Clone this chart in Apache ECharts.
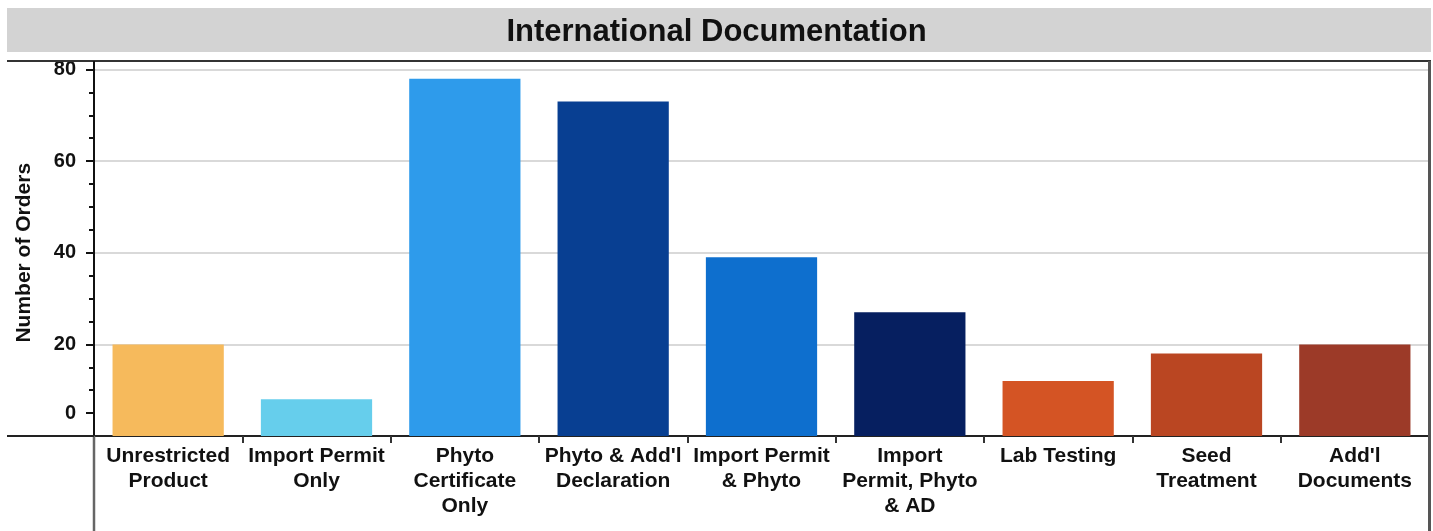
<!DOCTYPE html>
<html>
<head>
<meta charset="utf-8">
<title>International Documentation</title>
<script src="https://cdn.jsdelivr.net/npm/echarts@6/dist/echarts.min.js"></script>
<style>
  html, body { margin: 0; padding: 0; background: #fff; }
  #chart { width: 1433px; height: 531px; }
</style>
</head>
<body>
<div id="chart"></div>
<script>
// Documentation type per order
const categories = [
  'Unrestricted\nProduct',
  'Import Permit\nOnly',
  'Phyto\nCertificate\nOnly',
  "Phyto & Add'l\nDeclaration",
  'Import Permit\n& Phyto',
  'Import\nPermit, Phyto\n& AD',
  'Lab Testing',
  'Seed\nTreatment',
  "Add'l\nDocuments"
];
const orders = [20, 8, 78, 73, 39, 27, 12, 18, 20];
const barColors = [
  '#F6BA5C', '#66CEEC', '#2E9BEB', '#083F92', '#0E6FCE',
  '#061F60', '#D45424', '#BA4622', '#9C3A28'
];
// Labelled ticks on the vertical scale and the text shown at each
const yTickValues = [5, 20, 40, 60, 80];
const yTickLabels = ['0', '20', '40', '60', '80'];

const FONT = '"Liberation Sans", Arial, sans-serif';
const INK = '#111';

const chart = echarts.init(document.getElementById('chart'), null, { renderer: 'canvas' });

const option = {
  animation: false,
  backgroundColor: '#ffffff',
  title: {
    text: 'International Documentation',
    left: 'center',
    top: 12,
    textStyle: { fontFamily: FONT, fontSize: 31, fontWeight: 'bold', color: INK }
  },
  grid: {
    left: 94, right: 4, top: 69.5, bottom: 95,
    containLabel: false,
    outerBoundsMode: 'none'
  },
  xAxis: {
    type: 'category',
    data: categories,
    boundaryGap: true,
    axisLine: { show: true, lineStyle: { color: '#222', width: 2 } },
    axisTick: { show: true, alignWithLabel: false, length: 7, lineStyle: { color: '#333', width: 2 } },
    axisLabel: {
      interval: 0,
      margin: 8,
      fontFamily: FONT,
      fontSize: 21,
      fontWeight: 'bold',
      lineHeight: 25,
      color: INK,
      align: 'center',
      verticalAlign: 'top'
    },
    splitLine: { show: false }
  },
  yAxis: [
    {
      type: 'value',
      min: 0,
      max: 80,
      interval: 20,
      axisLine: { show: true, lineStyle: { color: '#111', width: 2 } },
      axisTick: { show: false },
      axisLabel: { show: false },
      minorTick: { show: true, splitNumber: 4, length: 5, lineStyle: { color: '#111', width: 2 } },
      splitLine: { show: true, lineStyle: { color: '#d9d9d9', width: 2 } }
    },
    {
      type: 'value',
      position: 'left',
      min: 0,
      max: 80,
      name: 'Number of Orders',
      nameLocation: 'middle',
      nameGap: 59,
      nameRotate: 90,
      nameMoveOverlap: false,
      nameTextStyle: { fontFamily: FONT, fontSize: 21, fontWeight: 'bold', color: INK },
      axisLine: { show: false },
      splitLine: { show: false },
      axisTick: {
        show: true,
        customValues: yTickValues,
        length: 8,
        lineStyle: { color: '#111', width: 2 }
      },
      axisLabel: {
        customValues: yTickValues,
        formatter: (v) => yTickLabels[yTickValues.indexOf(v)],
        margin: 18,
        fontFamily: FONT,
        fontSize: 20,
        fontWeight: 'bold',
        color: INK
      }
    }
  ],
  series: [
    {
      type: 'bar',
      yAxisIndex: 0,
      barCategoryGap: '25%',
      data: orders.map((v, i) => ({ value: v, itemStyle: { color: barColors[i] } })),
      label: { show: false }
    }
  ],
  graphic: [
    // title band
    { type: 'rect', z: -10, shape: { x: 7, y: 8, width: 1424, height: 44 }, style: { fill: '#d3d3d3' } },
    // frame: top rule, right edge, extensions of the two axes
    { type: 'line', z: 10, shape: { x1: 7, y1: 61, x2: 1431, y2: 61 }, style: { stroke: '#333', lineWidth: 2 } },
    { type: 'line', z: 10, shape: { x1: 1429.5, y1: 61, x2: 1429.5, y2: 531 }, style: { stroke: '#555', lineWidth: 3 } },
    { type: 'line', z: 10, shape: { x1: 94, y1: 61, x2: 94, y2: 70 }, style: { stroke: '#111', lineWidth: 2 } },
    { type: 'line', z: 10, shape: { x1: 94, y1: 436, x2: 94, y2: 531 }, style: { stroke: '#666', lineWidth: 2.5 } },
    { type: 'line', z: 10, shape: { x1: 7, y1: 436, x2: 94, y2: 436 }, style: { stroke: '#222', lineWidth: 2 } }
  ]
};

chart.setOption(option);
</script>
</body>
</html>
